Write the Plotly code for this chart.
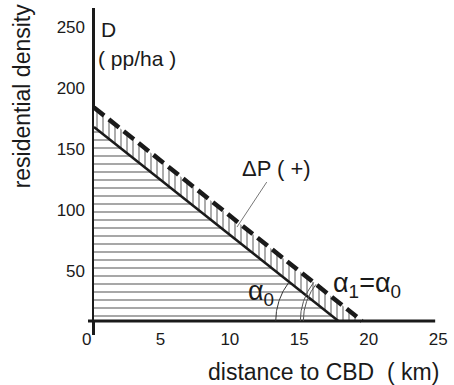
import math
import plotly.graph_objects as go

# ---- data ----
x_ticks = [0, 5, 10, 15, 20, 25]
y_ticks = [50, 100, 150, 200, 250]
# density gradient lines: intercept on D axis (pp/ha) and on distance axis (km)
initial_D0, initial_xmax = 159, 17.6     # solid line (before)
shifted_D0, shifted_xmax = 175, 19.3     # dashed line (after, ΔP +)
leader_point = (10.3, 77)                # where the ΔP leader touches the band
axis_x_extent = [-0.43, 24.57]           # drawn length of the distance axis

W, H = 454, 385
L, T, B = 88, 8, 50
SX = 13.96                                # px per km
X_RANGE = [-0.43, 25.35]
Y_RANGE = [-11.5, 256.6]
pw = round((X_RANGE[1] - X_RANGE[0]) * SX)
R = W - L - pw
ph = H - T - B
sx = pw / (X_RANGE[1] - X_RANGE[0])
sy = ph / (Y_RANGE[1] - Y_RANGE[0])   # px per pp/ha

FONT = "Liberation Sans, Arial, Helvetica, sans-serif"
INK = "#1a1a1a"

def px(xp, yp):
    return (xp - L) / pw, (H - B - yp) / ph

fig = go.Figure()

# lower triangle, horizontal hatch
fig.add_trace(go.Scatter(
    x=[0, 0, initial_xmax, 0], y=[0, initial_D0, 0, 0],
    mode="lines", line=dict(width=0), fill="toself", fillcolor="rgba(0,0,0,0)",
    fillpattern=dict(shape="-", size=8, solidity=0.2, fgcolor="#222", bgcolor="white"),
    hoverinfo="skip", showlegend=False))

# band between the two lines, vertical hatch
fig.add_trace(go.Scatter(
    x=[0, 0, shifted_xmax, initial_xmax, 0], y=[initial_D0, shifted_D0, 0, 0, initial_D0],
    mode="lines", line=dict(width=0), fill="toself", fillcolor="rgba(0,0,0,0)",
    fillpattern=dict(shape="|", size=6, solidity=0.25, fgcolor="#222", bgcolor="white"),
    hoverinfo="skip", showlegend=False))

# distance axis line
fig.add_trace(go.Scatter(x=axis_x_extent, y=[0, 0], mode="lines",
                         line=dict(color=INK, width=3), hoverinfo="skip", showlegend=False))

# solid line
fig.add_trace(go.Scatter(x=[0, initial_xmax], y=[initial_D0, 0], mode="lines",
                         line=dict(color=INK, width=2.5), hoverinfo="skip", showlegend=False))
# dashed line
fig.add_trace(go.Scatter(x=[0, shifted_xmax], y=[shifted_D0, 0], mode="lines",
                         line=dict(color=INK, width=4.5, dash="13px,6px"), hoverinfo="skip",
                         showlegend=False))

# angle arcs
def arc(cx, d0, r_px, color, width):
    ang = math.atan2(d0 * sy, cx * sx)
    n = 40
    xs, ys = [], []
    for i in range(n + 1):
        t = ang * i / n
        xs.append(cx - r_px * math.cos(t) / sx)
        ys.append(r_px * math.sin(t) / sy)
    fig.add_trace(go.Scatter(x=xs, y=ys, mode="lines", line=dict(color=color, width=width),
                             hoverinfo="skip", showlegend=False))

arc(initial_xmax, initial_D0, 63, "#333", 1)
arc(shifted_xmax, shifted_D0, 62, "#555", 1)
arc(shifted_xmax, shifted_D0, 59, "#555", 1)

annotations = []
def txt(text, xp, yp, size, xanchor="center", angle=0):
    ax_, ay_ = px(xp, yp)
    annotations.append(dict(text=text, x=ax_, y=ay_, xref="paper", yref="paper",
                            xanchor=xanchor, yanchor="middle", showarrow=False,
                            textangle=angle, font=dict(family=FONT, size=size, color=INK)))

txt("residential density", 22, 96, 23, angle=-90)
txt("distance to CBD  ( km)", 325, 372, 23)
txt("D", 99, 30, 21, xanchor="left")
txt("( pp/ha )", 96, 58, 21, xanchor="left")
txt("α<sub>0</sub>", 262, 293, 27)
txt("α<sub>1</sub>=α<sub>0</sub>", 369, 285, 27)

# ΔP label with leader line
annotations.append(dict(text="ΔP ( +)", x=leader_point[0], y=leader_point[1], xref="x", yref="y",
                        ax=39, ay=-59, showarrow=True, arrowhead=0, arrowwidth=1,
                        arrowcolor="#777", standoff=0,
                        font=dict(family=FONT, size=22, color=INK)))

x_text = [str(v) for v in x_ticks]
x_text[0] = x_text[0] + "\u2002"    # origin label sits left of the corner

fig.update_layout(
    width=W, height=H, margin=dict(l=L, r=R, t=T, b=B),
    paper_bgcolor="white", plot_bgcolor="white",
    annotations=annotations,
    xaxis=dict(range=X_RANGE, tickvals=x_ticks, ticktext=x_text,
               showgrid=False, showline=False, zeroline=True, zerolinecolor=INK,
               zerolinewidth=3, ticks="", ticklabelstandoff=-8, ticklabelshift=-3,
               tickfont=dict(family=FONT, size=17, color=INK), fixedrange=True),
    yaxis=dict(range=Y_RANGE, tickvals=y_ticks, ticktext=[str(v) for v in y_ticks],
               showgrid=False, showline=False, zeroline=False,
               ticks="", ticklabelshift=11, ticklabelstandoff=2,
               tickfont=dict(family=FONT, size=17, color=INK), fixedrange=True),
)

fig.write_html("out.html")
